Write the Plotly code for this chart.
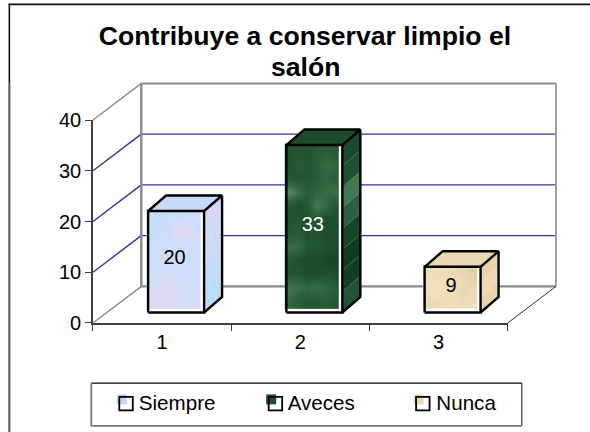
import numpy as np
import plotly.graph_objects as go

title_line1 = "Contribuye a conservar limpio el"
title_line2 = "salón"
categories = [1, 2, 3]
series_names = ["Siempre", "Aveces", "Nunca"]
values = [20, 33, 9]
y_ticks = [0, 10, 20, 30, 40]
label_colors = ["#000000", "#ffffff", "#000000"]
swatch_colors = ["#c4d6f6", "#1f4f2e", "#efd9b2"]
top_colors = ["#c6dcf6", "#1c4a2a", "#ecd8b2"]

# Hand-read mottling of each front face, rows bottom to top
tex_blue = [[.7, .8, .8, .6, .5, .6], [.6, .7, .8, .7, .6, .4], [.4, .4, .5, .4, .3, .5],
            [.3, .3, .3, .4, .3, .3], [.2, .2, .3, .2, .5, .5], [.2, .2, .3, 1, .9, .3],
            [.2, .1, .2, .2, .2, .3]]
tex_green = [[.55, .4, .3, .3, .4, .3], [.7, .6, .5, .6, .5, .4], [.3, .3, .2, .2, .25, .2],
             [.3, .2, .15, .2, .1, .1], [.6, .55, .3, .3, .25, .2], [.3, .35, .25, .3, .2, .2],
             [.25, .3, .2, .3, .2, .2], [.3, .2, .3, .75, .55, .3], [.9, .6, .4, .5, .55, .6],
             [.3, .25, .3, .35, .5, .4], [.25, .35, .3, .4, .55, .5], [.25, .3, .25, .35, .4, .35]]
tex_tan = [[.5, .4, .3, .3, .4, .3], [.3, .2, .3, .4, .6, .4], [.2, .3, .2, .3, .5, .7],
           [.4, .3, .4, .5, .6, .8]]
textures = [tex_blue, tex_green, tex_tan]
scales = [[[0, "#c4dcfb"], [.5, "#d3def8"], [1, "#e8d8ee"]],
          [[0, "#123f20"], [.5, "#2f663e"], [1, "#5c9570"]],
          [[0, "#f3e6c8"], [.5, "#ecd9b4"], [1, "#dcc69a"]]]
side_bands = [["#bcdcf8", "#c0dcf8", "#c6dcf6", "#ccdcf5", "#d2daf3", "#d4d8f2"],
              ["#245436", "#123f20", "#0f3c1c", "#164626", "#2c6040", "#3f7a54", "#1f5030", "#1a4a2a"],
              ["#e9d5ac", "#eddab4", "#e8d4aa"]]

W, H = 590, 432
# Front plane of the chart, in page pixels
L, R, T, B = 92.7, 507.7, 120.0, 322.7
# Whole plotting area, large enough to hold the walls behind the front plane
AL, AR, AT, AB = 86.7, 562.0, 78.0, 328.7
PX_X = (R - L) / 3.0
PX_Y = (B - T) / 40.0
DEPTH_X, DEPTH_Y = 48.3 / PX_X, 36.6 / PX_Y
BAR_OFF_X, BAR_OFF_Y = 14.0 / PX_X, 10.5 / PX_Y
BAR_DX, BAR_DY = 18.0 / PX_X, 15.5 / PX_Y
HALF = 28.0 / PX_X
FILL_SX, FILL_SY = -1.6 / PX_X, 4.0 / PX_Y
FILL_GAP_R = 3.6 / PX_X
wide_x = [0.5 - (L - AL) / PX_X, 3.5 + (AR - R) / PX_X]
wide_y = [-(AB - B) / PX_Y, 40 + (T - AT) / PX_Y]


def px(x):
    return (x - AL) / (AR - AL)


def py(y):
    return (AB - y) / (AB - AT)


fig = go.Figure()


def line(xs, ys, color, width, axes=("x2", "y2")):
    fig.add_trace(go.Scatter(x=xs, y=ys, mode="lines", line=dict(color=color, width=width),
                             showlegend=False, hoverinfo="skip", xaxis=axes[0], yaxis=axes[1]))


def poly(xs, ys, color, axes=("x3", "y3")):
    fig.add_trace(go.Scatter(x=list(xs) + [xs[0]], y=list(ys) + [ys[0]], mode="lines", fill="toself",
                             fillcolor=color, line=dict(width=0, color=color),
                             showlegend=False, hoverinfo="skip", xaxis=axes[0], yaxis=axes[1]))


# Walls
x0, x1 = 0.5, 3.5
GREY = "#8a8a8a"
BLUE = "#34349c"
for v in y_ticks:
    color = GREY if v in (0, 40) else BLUE
    line([x0, x0 + DEPTH_X], [v, v + DEPTH_Y], color, 1.4)
    if v != 0:
        line([x0 + DEPTH_X, x1 + DEPTH_X], [v + DEPTH_Y, v + DEPTH_Y], color, 2 if v == 40 else 1.2)
line([x0 + DEPTH_X, x1 + DEPTH_X], [DEPTH_Y, DEPTH_Y], GREY, 2.2)
line([x0 + DEPTH_X, x0 + DEPTH_X], [DEPTH_Y, 40 + DEPTH_Y], GREY, 2.4)
line([x1 + DEPTH_X, x1 + DEPTH_X], [DEPTH_Y, 40 + DEPTH_Y], "#a0a0a0", 2)
line([x1, x1 + DEPTH_X], [0, DEPTH_Y], "#333333", 1)

# White backing of each front face
for c, v in zip(categories, values):
    a, b = c + BAR_OFF_X - HALF, c + BAR_OFF_X + HALF
    poly([a, b, b, a], [BAR_OFF_Y, BAR_OFF_Y, BAR_OFF_Y + v, BAR_OFF_Y + v], "#ffffff", ("x2", "y2"))

# Bars
for i, (c, v) in enumerate(zip(categories, values)):
    a, b = c + BAR_OFF_X - HALF, c + BAR_OFF_X + HALF
    y0, y1 = BAR_OFF_Y, BAR_OFF_Y + v
    z = textures[i]
    fig.add_trace(go.Heatmap(z=z, x=np.linspace(a + FILL_SX, b - FILL_GAP_R, len(z[0]) + 1),
                             y=np.linspace(y0 + FILL_SY, y1 + FILL_SY * 0.3, len(z) + 1),
                             colorscale=scales[i], zmin=0, zmax=1, zsmooth="best", showscale=False,
                             hoverinfo="skip", xaxis="x3", yaxis="y3"))
    # Side face as stacked bands
    bands = side_bands[i]
    edges = np.linspace(y0, y1, len(bands) + 1)
    for j, col in enumerate(bands):
        poly([b, b + BAR_DX, b + BAR_DX, b],
             [edges[j], edges[j] + BAR_DY, edges[j + 1] + BAR_DY, edges[j + 1]], col)
    # Top face
    poly([a, b, b + BAR_DX, a + BAR_DX], [y1, y1, y1 + BAR_DY, y1 + BAR_DY], top_colors[i])
    # Outline: front, then top and side
    ax3 = ("x3", "y3")
    line([a, b, b, a, a], [y0, y0, y1, y1, y0], "#000000", 2.4, ax3)
    line([a, a + BAR_DX, b + BAR_DX, b], [y1, y1 + BAR_DY, y1 + BAR_DY, y1], "#000000", 2.4, ax3)
    line([b + BAR_DX, b + BAR_DX, b], [y1 + BAR_DY, y0 + BAR_DY, y0], "#000000", 2.4, ax3)
    fig.add_trace(go.Scatter(x=[c + BAR_OFF_X + FILL_SX], y=[y0 + v / 2 + FILL_SY * 0.65], mode="text",
                             text=[str(v)], textposition="middle center",
                             textfont=dict(color=label_colors[i], size=20, family="Liberation Sans"),
                             showlegend=False, hoverinfo="skip", xaxis="x3", yaxis="y3"))

# Main axes must exist even though every mark sits on the wider pair
fig.add_trace(go.Scatter(x=[None], y=[None], mode="lines", showlegend=False, hoverinfo="skip"))

# Legend entries: one small legend per series; the swatches are drawn as shapes
legend_names = ["legend", "legend2", "legend3"]
legend_x = [98.5, 247.5, 396.2]
for name, lg in zip(series_names, legend_names):
    fig.add_trace(go.Scatter(x=[None], y=[None], mode="markers", name=name, legend=lg,
                             marker=dict(symbol="square", size=10, color="rgba(0,0,0,0)"),
                             xaxis="x2", yaxis="y2"))

shapes = [
    dict(type="line", xref="paper", yref="paper", x0=px(9), x1=px(9), y0=py(4.5), y1=py(82),
         line=dict(color="#111111", width=1.6)),
    dict(type="line", xref="paper", yref="paper", x0=px(9), x1=px(9), y0=py(82), y1=py(432),
         line=dict(color="#555555", width=2)),
    dict(type="line", xref="paper", yref="paper", x0=px(8), x1=px(590), y0=py(4.5), y1=py(4.5),
         line=dict(color="#111111", width=1.6)),
    dict(type="line", xref="paper", yref="paper", x0=px(91), x1=px(522), y0=py(382.8), y1=py(382.8),
         line=dict(color="#000000", width=1.2)),
    dict(type="line", xref="paper", yref="paper", x0=px(521.8), x1=px(521.8), y0=py(382.8), y1=py(425),
         line=dict(color="#333333", width=1.2)),
    dict(type="line", xref="paper", yref="paper", x0=px(91), x1=px(91), y0=py(382.8), y1=py(425.5),
         line=dict(color="#777777", width=1.8)),
    dict(type="line", xref="paper", yref="paper", x0=px(91), x1=px(522), y0=py(425.5), y1=py(425.5),
         line=dict(color="#777777", width=1.8)),
]
for sx, col in zip([116.5, 266, 413.5], swatch_colors):
    shapes.append(dict(type="rect", xref="paper", yref="paper", x0=px(sx), x1=px(sx + 10),
                       y0=py(394), y1=py(404), fillcolor=col, line=dict(width=0)))
    shapes.append(dict(type="rect", xref="paper", yref="paper", x0=px(sx + 2.5), x1=px(sx + 16),
                       y0=py(396.5), y1=py(410), fillcolor="rgba(0,0,0,0)",
                       line=dict(color="#000000", width=1.8)))

font = dict(family="Liberation Sans", size=20, color="#000000")
legend_font = dict(family="Liberation Sans", size=20.6, color="#000000")
title_font = dict(family="Liberation Sans", size=26.6, color="#000000", weight="bold")
legends = {}
for lg, lx in zip(legend_names, legend_x):
    legends[lg] = dict(orientation="h", x=px(lx), xanchor="left", y=py(401.5), yanchor="middle",
                       bgcolor="rgba(0,0,0,0)", borderwidth=0, font=legend_font, itemwidth=30, itemclick=False)

fig.update_layout(
    width=W, height=H, autosize=False,
    margin=dict(l=AL, r=W - AR, t=AT, b=H - AB, autoexpand=False, pad=0),
    paper_bgcolor="#ffffff", plot_bgcolor="rgba(0,0,0,0)",
    font=font,
    title=dict(text=title_line1, x=305 / W, xanchor="center", y=1 - 36 / H, yanchor="middle",
               xref="container", yref="container", font=title_font),
    annotations=[dict(text=title_line2, xref="paper", yref="paper", x=px(305), y=py(67),
                      xanchor="center", yanchor="middle", showarrow=False, font=title_font)],
    xaxis=dict(domain=[px(L), px(R)], range=[0.5, 3.5], tickvals=categories,
               ticktext=[str(c) for c in categories], anchor="y",
               ticks="", showgrid=False, zeroline=False, showline=True, linecolor="#404040", linewidth=2,
               minor=dict(tickvals=[0.5, 1.5, 2.5, 3.5], ticks="outside", ticklen=6, tickcolor="#404040",
                          tickwidth=1.2, showgrid=False),
               tickfont=font, ticklabelstandoff=0),
    yaxis=dict(domain=[py(B), py(T)], range=[0, 40], tickvals=y_ticks, anchor="x",
               ticks="outside", ticklen=6, tickcolor="#404040", tickwidth=1.2,
               showgrid=False, zeroline=False, showline=True, linecolor="#404040", linewidth=1.6,
               tickfont=font, ticklabelstandoff=0),
    xaxis2=dict(domain=[0, 1], range=wide_x, visible=False, anchor="y2"),
    yaxis2=dict(domain=[0, 1], range=wide_y, visible=False, anchor="x2"),
    xaxis3=dict(range=wide_x, overlaying="x2", visible=False, anchor="y3"),
    yaxis3=dict(range=wide_y, overlaying="y2", visible=False, anchor="x3"),
    shapes=shapes,
    **legends,
)
fig.write_html("out.html", config=dict(displayModeBar=False),
               post_script="document.body.style.margin='0';document.documentElement.style.overflow='hidden';")
